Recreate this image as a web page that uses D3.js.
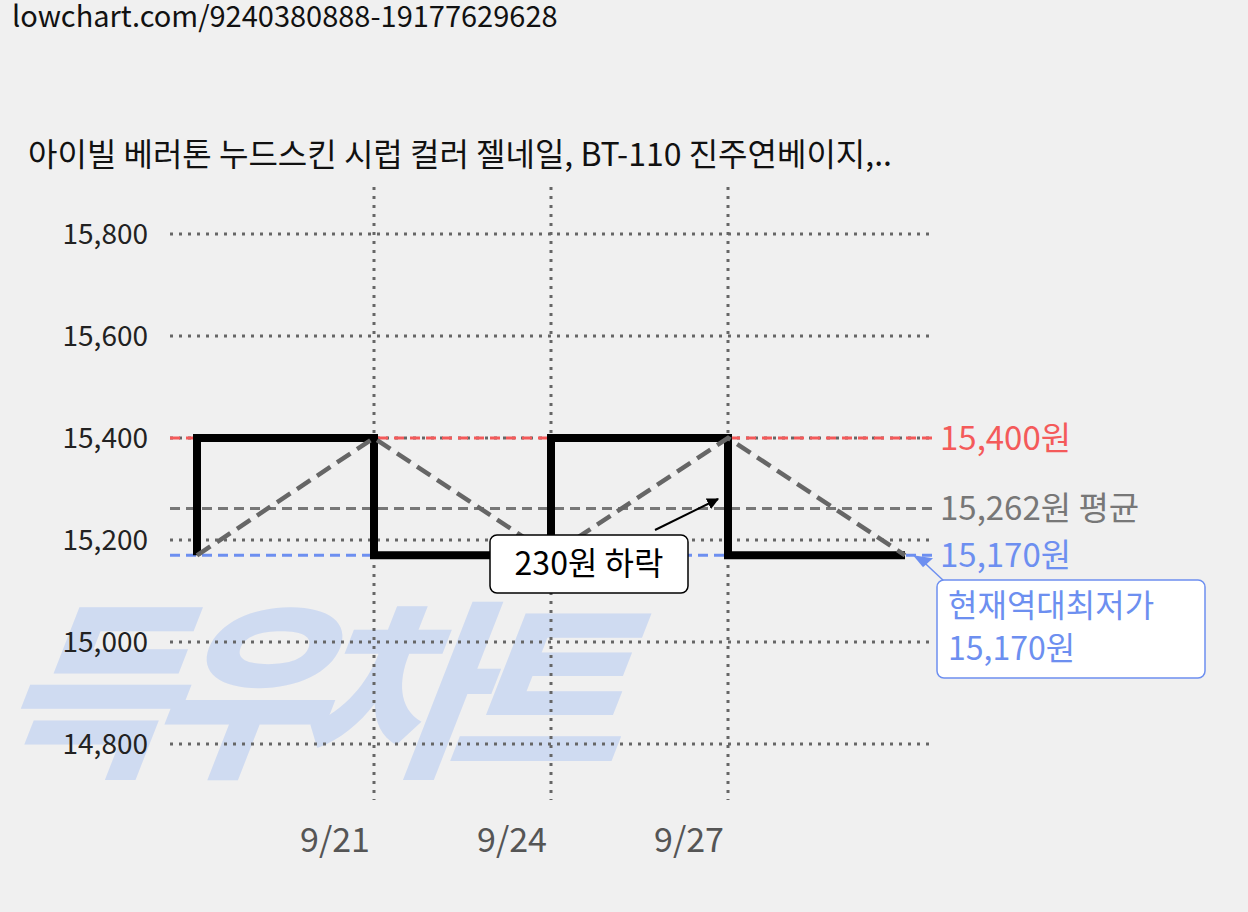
<!DOCTYPE html>
<html><head><meta charset="utf-8">
<script src="https://cdn.jsdelivr.net/npm/d3@7"></script>
<style>body{margin:0;background:#f0f0f0;font-family:"Noto Sans CJK KR",Roboto,sans-serif}svg text{font-family:"Noto Sans CJK KR",Roboto,sans-serif}</style>
</head><body><svg id="c" width="1248" height="912"></svg>
<script>
const dates = ["9/18","9/21","9/24","9/27","9/30"];
const prices = [15170,15400,15170,15400,15170];
const yTicks = [14800,15000,15200,15400,15600,15800];
const xTickLabels = ["9/21","9/24","9/27"];
const refValues = [15400,15262,15170];
const refLabels = ["15,400원","15,262원 평균","15,170원"];
const refColors = ["#f45a5a","#777","#6d8ff0"];

const svg = d3.select("#c");
const parse = s => { const [m,d]=s.split("/").map(Number); return new Date(2023,m-1,d); };
const x = d3.scaleTime().domain([parse("9/18"),parse("9/30")]).range([197,905]);
const y = d3.scaleLinear().domain([14800,15800]).range([744,234]);

svg.append("text").attr("x",12).attr("y",27).attr("font-size",29).attr("fill","#111").text("lowchart.com/9240380888-19177629628");
svg.append("text").attr("x",28).attr("y",166).attr("font-size",32).attr("fill","#111").text("아이빌 베러톤 누드스킨 시럽 컬러 젤네일, BT-110 진주연베이지,..");

svg.append("text").attr("x",0).attr("y",762).attr("font-size",190).attr("font-weight",900).attr("font-style","italic")
  .attr("fill","#c5d4f2").attr("opacity",0.75).attr("textLength",625).attr("transform","skewX(-8) translate(100,0)").text("득우차트");

yTicks.forEach(v=>{
  svg.append("line").attr("x1",170).attr("x2",935).attr("y1",y(v)).attr("y2",y(v))
    .attr("stroke","#666").attr("stroke-width",3).attr("stroke-dasharray","3,6");
  svg.append("text").attr("x",148).attr("y",y(v)+10).attr("text-anchor","end").attr("font-size",28).attr("fill","#222").text(d3.format(",")(v));
});
xTickLabels.forEach(s=>{
  svg.append("line").attr("x1",x(parse(s))).attr("x2",x(parse(s))).attr("y1",187).attr("y2",800)
    .attr("stroke","#666").attr("stroke-width",3).attr("stroke-dasharray","3,6");
  svg.append("text").attr("x",x(parse(s))-4).attr("y",852).attr("text-anchor","end").attr("font-size",34).attr("fill","#555").text(s);
});

refValues.forEach((v,i)=>{
  svg.append("line").attr("x1",170).attr("x2",935).attr("y1",y(v)).attr("y2",y(v))
    .attr("stroke",refColors[i]).attr("stroke-width",3).attr("stroke-dasharray","10,6");
  svg.append("text").attr("x",940).attr("y",y(v)+12).attr("font-size",33).attr("fill",refColors[i]).text(refLabels[i]);
});

const pts = dates.map((d,i)=>[x(parse(d)),y(prices[i])]);
svg.append("path").attr("d",d3.line().curve(d3.curveStepBefore)(pts)).attr("fill","none").attr("stroke","#000").attr("stroke-width",8);
svg.append("path").attr("d",d3.line()(pts)).attr("fill","none").attr("stroke","#666").attr("stroke-width",4.5).attr("stroke-dasharray","16,8");

svg.append("defs").append("marker").attr("id","ah").attr("viewBox","0 0 10 10").attr("refX",9).attr("refY",5)
  .attr("markerWidth",6).attr("markerHeight",6).attr("orient","auto").append("path").attr("d","M0,0L10,5L0,10z").attr("fill","#000");
svg.append("line").attr("x1",655).attr("y1",530).attr("x2",718).attr("y2",499).attr("stroke","#000").attr("stroke-width",2).attr("marker-end","url(#ah)");
svg.append("rect").attr("x",490).attr("y",535).attr("width",198).attr("height",58).attr("rx",7).attr("fill","#fff").attr("stroke","#000").attr("stroke-width",1.5);
svg.append("text").attr("x",589).attr("y",575).attr("text-anchor","middle").attr("font-size",32).attr("fill","#000").text("230원 하락");

svg.append("path").attr("d",`M${x(parse("9/30"))+8},${y(15170)} l20,3 l-10,9 z`).attr("fill","#6d8ff0");
svg.append("line").attr("x1",x(parse("9/30"))+20).attr("y1",y(15170)+8).attr("x2",945).attr("y2",582).attr("stroke","#6d8ff0").attr("stroke-width",1.5);
svg.append("rect").attr("x",937).attr("y",580).attr("width",268).attr("height",98).attr("rx",7).attr("fill","#fff").attr("stroke","#6d8ff0").attr("stroke-width",1.5);
svg.append("text").attr("x",948).attr("y",617).attr("font-size",32).attr("fill","#6d8ff0").text("현재역대최저가");
svg.append("text").attr("x",948).attr("y",660).attr("font-size",32).attr("fill","#6d8ff0").text("15,170원");
</script></body></html>
